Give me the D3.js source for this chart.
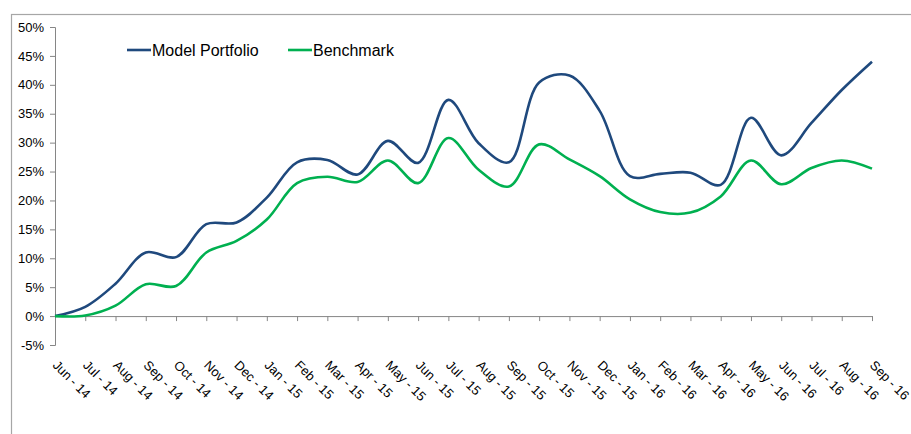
<!DOCTYPE html>
<html>
<head>
<meta charset="utf-8">
<script src="https://cdnjs.cloudflare.com/ajax/libs/d3/7.8.5/d3.min.js"></script>
<style>
  body { margin: 0; background: #fff; }
  svg { display: block; font-family: "Liberation Sans", Arial, sans-serif; }
</style>
</head>
<body>
<div id="chart"></div>
<script>

// months shown on the category axis
var months = ["Jun - 14", "Jul - 14", "Aug - 14", "Sep - 14", "Oct - 14", "Nov - 14", "Dec - 14",
              "Jan - 15", "Feb - 15", "Mar - 15", "Apr - 15", "May - 15", "Jun - 15", "Jul - 15",
              "Aug - 15", "Sep - 15", "Oct - 15", "Nov - 15", "Dec - 15", "Jan - 16", "Feb - 16",
              "Mar - 16", "Apr - 16", "May - 16", "Jun - 16", "Jul - 16", "Aug - 16", "Sep - 16"];

// cumulative returns, in %
var modelPortfolio = [0, 1.6, 5.6, 11.0, 10.2, 15.9, 16.2, 20.5, 26.6, 27.0, 24.5, 30.3, 26.5, 37.4,
                      29.9, 26.6, 40.4, 41.6, 35.5, 24.2, 24.6, 24.8, 22.7, 34.3, 27.8, 33.4, 39.1, 44.0];
var benchmark = [0, 0.1, 1.8, 5.5, 5.2, 11.0, 13.0, 16.7, 23.0, 24.1, 23.2, 26.9, 23.0, 30.8,
                 25.3, 22.4, 29.7, 27.1, 24.2, 20.2, 18.0, 17.9, 20.7, 26.9, 22.8, 25.6, 26.9, 25.5];

var yTicks = [-5, 0, 5, 10, 15, 20, 25, 30, 35, 40, 45, 50];

var series = [
  {name: "Model Portfolio", values: modelPortfolio, color: "#1f497d"},
  {name: "Benchmark", values: benchmark, color: "#00b050"}
];

var W = 911, H = 434;
var plotLeft = 55, plotRight = 872, plotTop = 27, plotBottom = 345;

var svg = d3.select("#chart").append("svg")
  .attr("width", W)
  .attr("height", H);

// outer chart border (runs off the right and bottom of the picture)
svg.append("rect")
  .attr("x", 11.5).attr("y", 14.5)
  .attr("width", 1000).attr("height", 1000)
  .attr("fill", "none")
  .attr("stroke", "#a6a6a6")
  .attr("stroke-width", 1.2);

var x = d3.scalePoint().domain(months).range([plotLeft, plotRight]);
var y = d3.scaleLinear().domain([-5, 50]).range([plotBottom, plotTop]);

// y axis
var yAxis = d3.axisLeft(y)
  .tickValues(yTicks)
  .tickSize(5)
  .tickPadding(6)
  .tickFormat(function(d) { return d + "%"; });

var gy = svg.append("g")
  .attr("transform", "translate(" + plotLeft + ",0)")
  .call(yAxis);
gy.select(".domain").attr("stroke", "#868686");
gy.selectAll(".tick line").attr("stroke", "#868686");
gy.selectAll(".tick text")
  .attr("font-size", 13)
  .attr("font-family", "Liberation Sans, Arial, sans-serif")
  .attr("fill", "#000");

// x axis sits on the 0% line
var xAxis = d3.axisBottom(x)
  .tickSize(5)
  .tickSizeOuter(0);

var gx = svg.append("g")
  .attr("transform", "translate(0," + y(0) + ")")
  .call(xAxis);
gx.select(".domain").attr("stroke", "#868686");
gx.selectAll(".tick line").attr("stroke", "#868686");
gx.selectAll(".tick text").remove();

// category labels below the plot area, rotated 45 degrees
svg.append("g")
  .selectAll("text")
  .data(months)
  .join("text")
    .attr("transform", function(d) { return "translate(" + (x(d) - 3) + "," + 366 + ") rotate(45)"; })
    .attr("font-size", 13)
    .attr("fill", "#000")
    .attr("text-anchor", "start")
    .text(function(d) { return d; });

// the two lines
var line = d3.line()
  .x(function(d, i) { return x(months[i]); })
  .y(function(d) { return y(d); })
  .curve(d3.curveCatmullRom.alpha(0.5));

svg.selectAll(".series")
  .data(series)
  .join("path")
    .attr("class", "series")
    .attr("fill", "none")
    .attr("stroke", function(d) { return d.color; })
    .attr("stroke-width", 2.6)
    .attr("stroke-linejoin", "round")
    .attr("d", function(d) { return line(d.values); });

// legend
var legendX = [127, 288];
var legend = svg.append("g");
series.forEach(function(s, i) {
  legend.append("line")
    .attr("x1", legendX[i]).attr("x2", legendX[i] + 24)
    .attr("y1", 50).attr("y2", 50)
    .attr("stroke", s.color)
    .attr("stroke-width", 2.6);
  legend.append("text")
    .attr("x", legendX[i] + 25)
    .attr("y", 56)
    .attr("font-size", 16)
    .attr("fill", "#000")
    .text(s.name);
});

</script>
</body>
</html>
